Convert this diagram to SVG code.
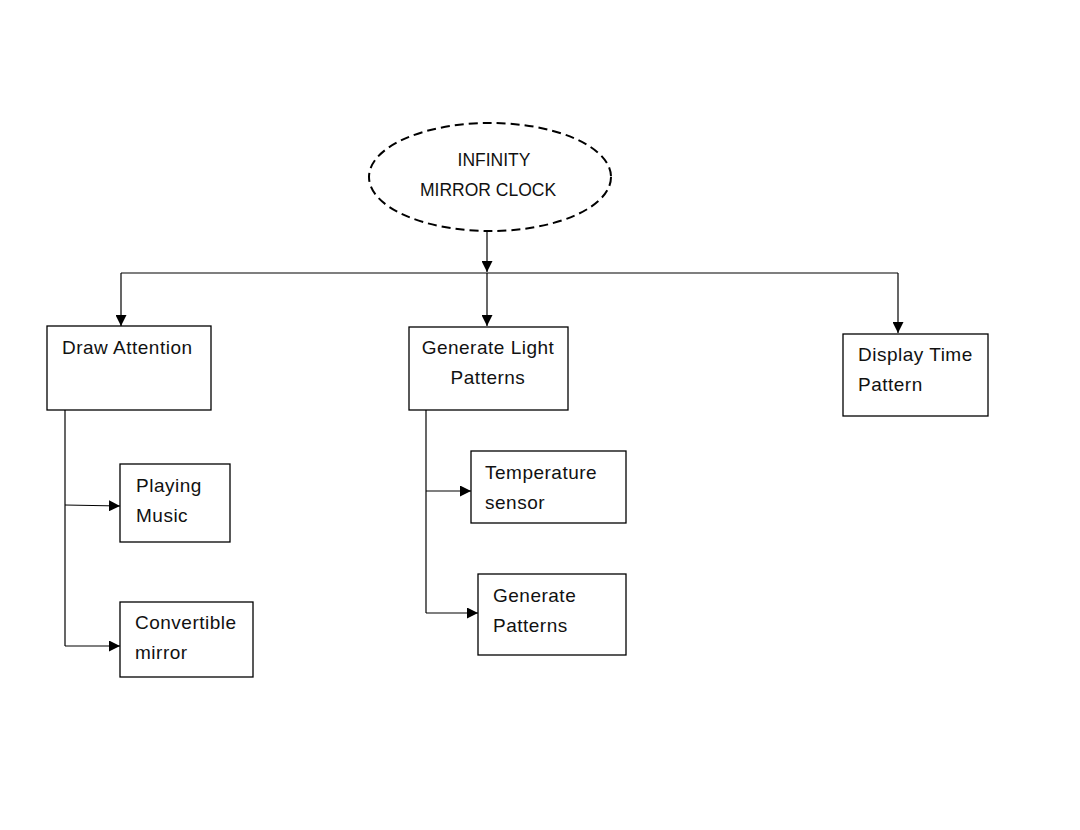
<svg xmlns="http://www.w3.org/2000/svg" width="1080" height="830" viewBox="0 0 1080 830">
<defs>
<style>
.box{fill:#fff;stroke:#000;stroke-width:1.3}
.ln{fill:none;stroke:#000;stroke-width:1.2}
text{font-family:"Liberation Sans",Arial,sans-serif;font-size:19px;letter-spacing:0.5px;fill:#111}
.caps{font-size:17.5px;letter-spacing:0}
</style>
<marker id="ah" viewBox="0 0 10 10" refX="10" refY="5" markerWidth="11" markerHeight="11" markerUnits="userSpaceOnUse" orient="auto">
<path d="M0,0 L10,5 L0,10 Z" fill="#000"/>
</marker>
</defs>
<rect width="1080" height="830" fill="#fff"/>
<g id="connectors">
<line class="ln" x1="487" y1="232" x2="487" y2="272" marker-end="url(#ah)"/>
<line class="ln" x1="121" y1="273" x2="898" y2="273"/>
<line class="ln" x1="121" y1="273" x2="121" y2="326" marker-end="url(#ah)"/>
<line class="ln" x1="487" y1="273" x2="487" y2="326" marker-end="url(#ah)"/>
<line class="ln" x1="898" y1="273" x2="898" y2="333" marker-end="url(#ah)"/>
<line class="ln" x1="65" y1="410" x2="65" y2="646"/>
<line class="ln" x1="65" y1="505" x2="120" y2="506" marker-end="url(#ah)"/>
<line class="ln" x1="65" y1="646" x2="120" y2="646" marker-end="url(#ah)"/>
<line class="ln" x1="426" y1="410" x2="426" y2="613"/>
<line class="ln" x1="426" y1="491" x2="471" y2="491" marker-end="url(#ah)"/>
<line class="ln" x1="426" y1="613" x2="478" y2="613" marker-end="url(#ah)"/>
</g>
<g id="root">
<ellipse cx="490" cy="177" rx="121" ry="54" fill="#fff" stroke="#000" stroke-width="2" stroke-dasharray="9,5"/>
<text class="caps" x="494" y="166" text-anchor="middle">INFINITY</text>
<text class="caps" x="488" y="196" text-anchor="middle">MIRROR  CLOCK</text>
</g>
<g id="draw-attention">
<rect class="box" x="47" y="326" width="164" height="84"/>
<text x="62" y="354">Draw Attention</text>
</g>
<g id="generate-light-patterns">
<rect class="box" x="409" y="327" width="159" height="83"/>
<text x="488" y="354" text-anchor="middle">Generate Light</text>
<text x="488" y="384" text-anchor="middle">Patterns</text>
</g>
<g id="display-time-pattern">
<rect class="box" x="843" y="334" width="145" height="82"/>
<text x="858" y="361">Display Time</text>
<text x="858" y="391">Pattern</text>
</g>
<g id="playing-music">
<rect class="box" x="120" y="464" width="110" height="78"/>
<text x="136" y="492">Playing</text>
<text x="136" y="522">Music</text>
</g>
<g id="convertible-mirror">
<rect class="box" x="120" y="602" width="133" height="75"/>
<text x="135" y="629">Convertible</text>
<text x="135" y="659">mirror</text>
</g>
<g id="temperature-sensor">
<rect class="box" x="471" y="451" width="155" height="72"/>
<text x="485" y="479">Temperature</text>
<text x="485" y="509">sensor</text>
</g>
<g id="generate-patterns">
<rect class="box" x="478" y="574" width="148" height="81"/>
<text x="493" y="602">Generate</text>
<text x="493" y="632">Patterns</text>
</g>
</svg>
